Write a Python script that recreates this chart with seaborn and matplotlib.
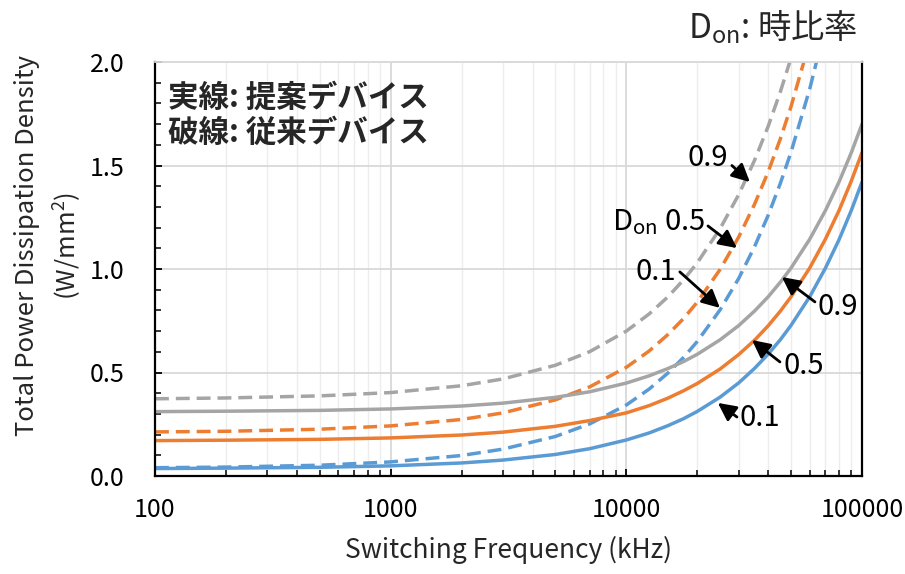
import numpy as np
import pandas as pd
import matplotlib
matplotlib.use("Agg")
import matplotlib.pyplot as plt
import seaborn as sns
from matplotlib.ticker import FixedLocator, MultipleLocator, NullFormatter

# ---- data ----
freq = [100, 200, 500, 1000, 2000, 3000, 5000, 7000, 10000, 12500, 15000, 17500,
        20000, 25000, 30000, 35000, 40000, 45000, 50000, 60000, 70000, 80000,
        90000, 100000]
# proposed devices (solid)
solid_01 = [0.036, 0.038, 0.042, 0.049, 0.063, 0.077, 0.104, 0.132, 0.174, 0.208,
            0.243, 0.277, 0.312, 0.381, 0.45, 0.52, 0.589, 0.658, 0.728, 0.866,
            1.005, 1.143, 1.282, 1.42]
solid_05 = [0.171, 0.173, 0.177, 0.184, 0.198, 0.212, 0.24, 0.268, 0.305, 0.34,
            0.376, 0.412, 0.447, 0.517, 0.587, 0.656, 0.726, 0.796, 0.866, 1.005,
            1.145, 1.284, 1.424, 1.563]
solid_09 = [0.311, 0.313, 0.317, 0.324, 0.338, 0.352, 0.38, 0.407, 0.449, 0.484,
            0.519, 0.553, 0.588, 0.658, 0.727, 0.797, 0.866, 0.936, 1.005, 1.144,
            1.283, 1.422, 1.561, 1.70]
# conventional devices (dashed)
dash_01 = [0.040, 0.043, 0.052, 0.068, 0.099, 0.130, 0.191, 0.252, 0.343, 0.42,
           0.497, 0.573, 0.65, 0.803, 0.955, 1.108, 1.26, 1.413, 1.565, 1.87, 2.175]
dash_05 = [0.213, 0.216, 0.226, 0.242, 0.273, 0.305, 0.368, 0.431, 0.525, 0.604,
           0.683, 0.761, 0.84, 0.998, 1.155, 1.313, 1.47, 1.628, 1.785, 2.10]
dash_09 = [0.373, 0.377, 0.387, 0.403, 0.436, 0.469, 0.535, 0.601, 0.70, 0.783,
           0.865, 0.948, 1.03, 1.195, 1.36, 1.525, 1.69, 1.855, 2.02]

x_ticks = [100, 1000, 10000, 100000]
x_tick_labels = ["100", "1000", "10000", "100000"]
y_ticks = [0.0, 0.5, 1.0, 1.5, 2.0]
y_tick_labels = ["0.0", "0.5", "1.0", "1.5", "2.0"]

BLUE, ORANGE, GRAY = "#5B9BD5", "#ED7D31", "#A5A5A5"

sns.set_theme(style="white")
plt.rcParams["font.family"] = ["Noto Sans CJK JP", "DejaVu Sans"]
plt.rcParams["mathtext.fontset"] = "custom"
plt.rcParams["mathtext.rm"] = "Noto Sans CJK JP"
plt.rcParams["mathtext.it"] = "Noto Sans CJK JP"
plt.rcParams["mathtext.bf"] = "Noto Sans CJK JP:bold"

fig = plt.figure(figsize=(9.05, 5.74), dpi=100)
ax = fig.add_axes([155 / 905, 98 / 574, 707 / 905, 414 / 574])

series = [
    (dash_09, GRAY, "--"), (dash_05, ORANGE, "--"), (dash_01, BLUE, "--"),
    (solid_09, GRAY, "-"), (solid_05, ORANGE, "-"), (solid_01, BLUE, "-"),
]
for vals, col, ls in series:
    df = pd.DataFrame({"f": freq[:len(vals)], "p": vals})
    sns.lineplot(data=df, x="f", y="p", ax=ax, color=col, lw=2.5,
                 linestyle=ls, legend=False)
for line in ax.lines:
    if line.get_linestyle() == "--":
        line.set_dashes((4.0, 2.0))

ax.set_xscale("log")
ax.set_xlim(100, 100000)
ax.set_ylim(0, 2.0)

ax.xaxis.set_major_locator(FixedLocator(x_ticks))
ax.set_xticklabels(x_tick_labels)
ax.xaxis.set_minor_formatter(NullFormatter())
ax.set_yticks(y_ticks)
ax.set_yticklabels(y_tick_labels)
ax.yaxis.set_minor_locator(MultipleLocator(0.1))

ax.grid(True, which="major", color="#D9D9D9", lw=1.3)
ax.grid(True, which="minor", axis="x", color="#EDEDED", lw=1.0)
ax.set_axisbelow(True)

ax.tick_params(axis="both", which="major", direction="in", length=5, width=1.3,
               labelsize=18, colors="black", bottom=True, left=True)
ax.tick_params(axis="both", which="minor", direction="in", length=4, width=1.3,
               bottom=True, left=True)
ax.tick_params(axis="y", which="major", pad=22)
ax.tick_params(axis="x", which="major", pad=15)

for s in ["left", "bottom", "right"]:
    ax.spines[s].set_color("black")
    ax.spines[s].set_linewidth(1.6)
ax.spines["top"].set_color("#D9D9D9")
ax.spines["top"].set_linewidth(1.3)

ax.set_xlabel("Switching Frequency (kHz)", fontsize=19, va="center")
ax.xaxis.set_label_coords(0.5, -(550 - 476) / 414)
ax.set_ylabel("Total Power Dissipation Density\n(W/mm$^2$)", fontsize=18.5,
              linespacing=1.5, va="center")
ax.yaxis.set_label_coords(-(155 - 49) / 707, (476 - 246) / 414)

ax.text(0.018, 0.913, "実線: 提案デバイス", transform=ax.transAxes, fontsize=22,
        fontweight="bold", va="center", ha="left")
ax.text(0.018, 0.828, "破線: 従来デバイス", transform=ax.transAxes, fontsize=22,
        fontweight="bold", va="center", ha="left")

fig.text(858 / 905, 1 - 27 / 574, "D$_{\\mathregular{on}}$: 時比率", fontsize=24,
         ha="right", va="center")

arrow = dict(arrowstyle="-|>,head_length=0.9,head_width=0.45", color="black",
             lw=2.0, shrinkA=0, shrinkB=0)
# (text, text xy, text ha, tail xy, tip xy)
notes = [
    ("0.9", (26980, 1.536), "right", (28050, 1.50), (33430, 1.42)),
    ("D$_{\\mathregular{on}}$ 0.5", (21700, 1.227), "right", (22200, 1.208), (29460, 1.101)),
    ("0.1", (16230, 0.986), "right", (16870, 0.986), (24950, 0.812)),
    ("0.9", (65030, 0.816), "left", (63140, 0.841), (45730, 0.961)),
    ("0.5", (46650, 0.531), "left", (44850, 0.551), (34130, 0.657)),
    ("0.1", (30340, 0.280), "left", (29460, 0.285), (24460, 0.353)),
]
for txt, txy, ha, tail, tip in notes:
    ax.text(txy[0], txy[1], txt, fontsize=21, ha=ha, va="center", color="black")
    ax.annotate("", xy=tip, xytext=tail, arrowprops=arrow)

fig.savefig("out.png", dpi=100)
